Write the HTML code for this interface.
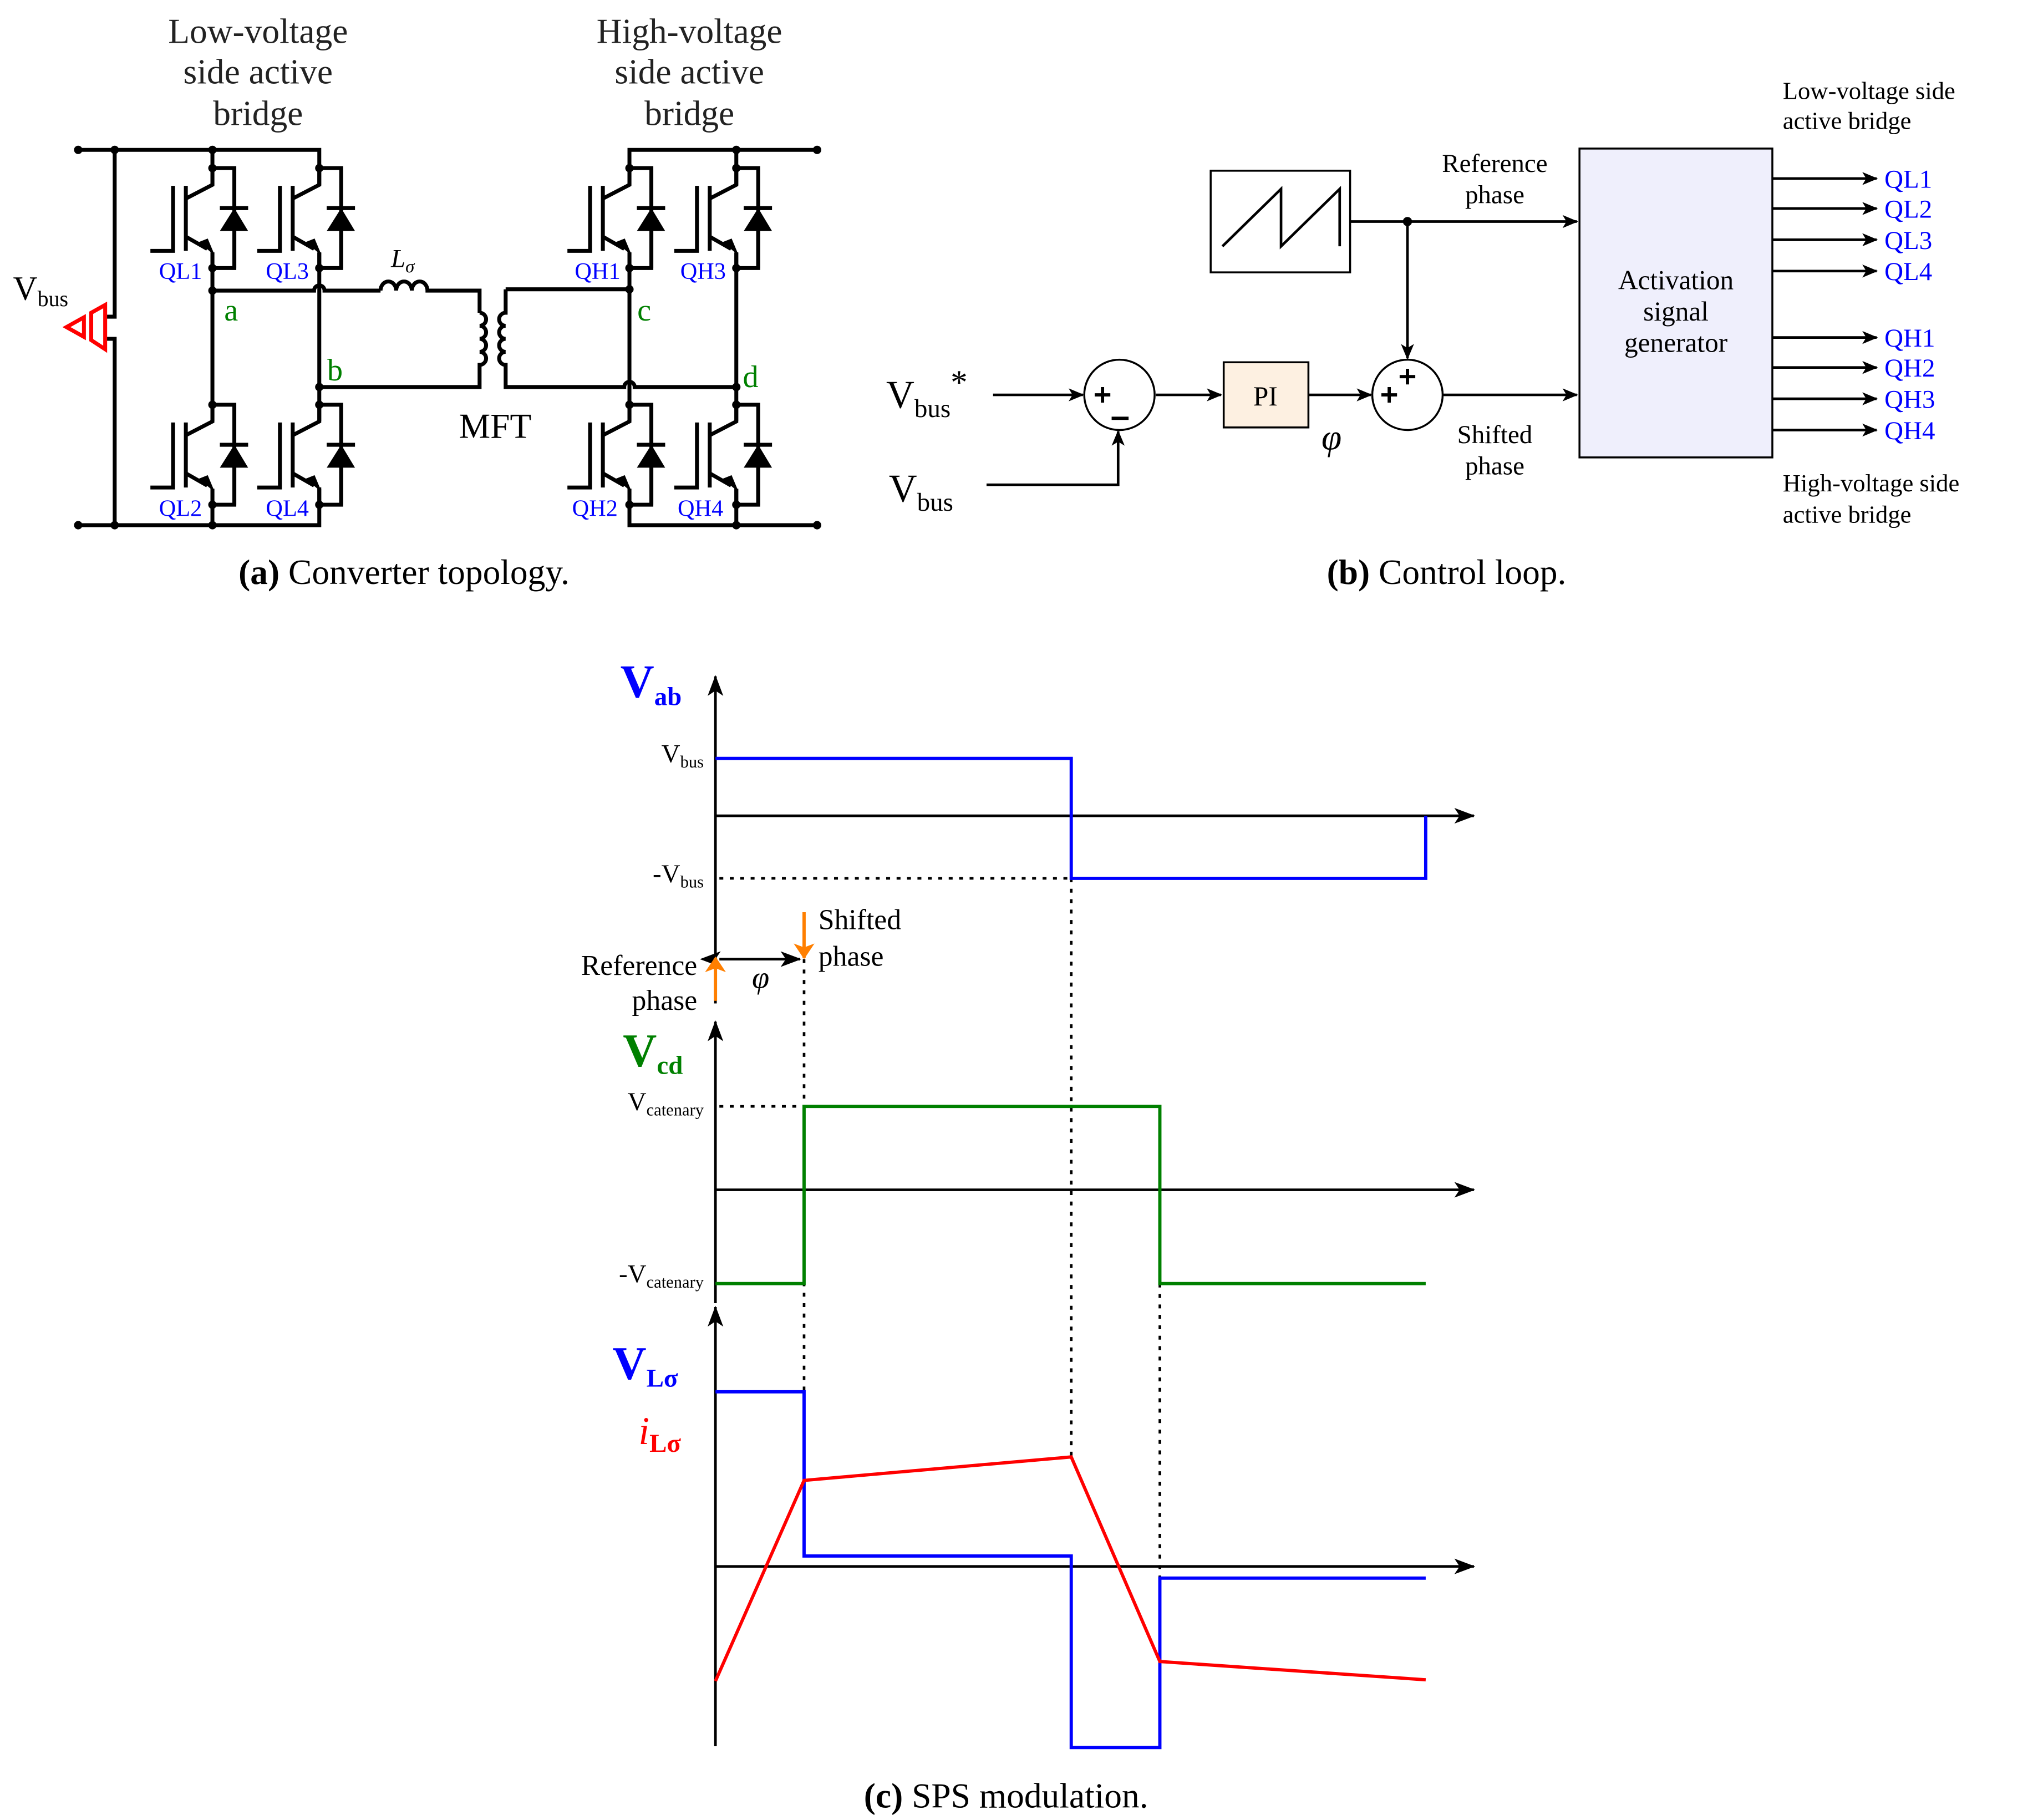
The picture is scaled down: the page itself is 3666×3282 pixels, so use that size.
<!DOCTYPE html>
<html><head><meta charset="utf-8"><style>
html,body{margin:0;padding:0;background:#fff}
svg{display:block}
text{font-family:"Liberation Serif",serif}
</style></head><body>
<svg width="3666" height="3282" viewBox="0 0 1560 1396.6" xmlns="http://www.w3.org/2000/svg" font-family="Liberation Serif, serif">
<defs>
<marker id="ah" viewBox="0 0 12 10" refX="11" refY="5" markerWidth="12" markerHeight="10" markerUnits="userSpaceOnUse" orient="auto"><path d="M0,0 L12,5 L0,10 L3,5 z" fill="#000"/></marker>
<marker id="ahb" viewBox="0 0 16 12" refX="15" refY="6" markerWidth="16" markerHeight="12" markerUnits="userSpaceOnUse" orient="auto"><path d="M0,0 L16,6 L0,12 L4,6 z" fill="#000"/></marker>
<marker id="ahs" viewBox="0 0 16 12" refX="1" refY="6" markerWidth="16" markerHeight="12" markerUnits="userSpaceOnUse" orient="auto-start-reverse"><path d="M0,0 L16,6 L0,12 L4,6 z" fill="#000"/></marker>
<marker id="ao" viewBox="0 0 12 16" refX="11" refY="8" markerWidth="12" markerHeight="16" markerUnits="userSpaceOnUse" orient="auto"><path d="M0,0 L12,8 L0,16 L3,8 z" fill="#ff7f00"/></marker>
<g id="sw" stroke="#000" stroke-width="3" fill="none">
<path d="M0,0 V12.8 L-20.4,23.4"/>
<path d="M-20.4,13.6 V63.5"/>
<path d="M-30.2,13.6 V63.5 H-47.6"/>
<path d="M-20.4,52.6 L-4,62"/>
<path d="M0,64.6 V76.7"/>
<path d="M0,0 H16.8 V76.7 H0"/>
<path d="M5.7,30.7 H27.4"/>
<path d="M16.8,48.3 V76.7"/>
<polygon points="0,64.6 -9,57 -4,55" fill="#000" stroke-width="1.5"/>
<polygon points="5.7,48.3 27.4,48.3 16.8,30.7" fill="#000" stroke="none"/>
<circle cx="0" cy="0" r="3.2" fill="#000" stroke="none"/>
<circle cx="0" cy="76.7" r="3.2" fill="#000" stroke="none"/>
</g>
</defs>

<!-- ===== (a) ===== -->
<g font-size="27" text-anchor="middle" fill="#222">
<text x="198" y="33">Low-voltage</text><text x="198" y="64">side active</text><text x="198" y="96">bridge</text>
<text x="529" y="33">High-voltage</text><text x="529" y="64">side active</text><text x="529" y="96">bridge</text>
</g>
<g stroke="#000" stroke-width="3" fill="none">
<path d="M60,115 H245 V142"/>
<path d="M60,403 H245 V374"/>
<path d="M88,115 V243 H82 M82,260 H88 V403"/>
<path d="M163,115 V142 M163,194 V323 M163,375 V403"/>
<path d="M245,194 V323"/>
<path d="M163,223 H241 A4,4 0 0 1 249,223 H292"/>
<path d="M292,223 a6,7 0 0 1 12,0 a6,7 0 0 1 12,0 a6,7 0 0 1 12,0 H368 V240"/>
<path d="M368,240 a5,5 0 0 1 0,10 a5,5 0 0 1 0,10 a5,5 0 0 1 0,10 a5,5 0 0 1 0,10 V297 H245"/>
<path d="M388,222 V240 a5,5 0 0 0 0,10 a5,5 0 0 0 0,10 a5,5 0 0 0 0,10 a5,5 0 0 0 0,10 V297 H479 A4,4 0 0 1 487,297 H565"/>
<path d="M388,222 H483"/>
<path d="M627,115 H483 V142 M483,194 V323 M483,375 V403 H627"/>
<path d="M565,115 V142 M565,194 V323 M565,375 V403"/>
</g>
<g fill="#000">
<circle cx="60" cy="115" r="3.2"/><circle cx="88" cy="115" r="3.2"/><circle cx="163" cy="115" r="3.2"/>
<circle cx="60" cy="403" r="3.2"/><circle cx="88" cy="403" r="3.2"/><circle cx="163" cy="403" r="3.2"/>
<circle cx="163" cy="223" r="3.2"/><circle cx="245" cy="297" r="3.2"/>
<circle cx="627" cy="115" r="3.2"/><circle cx="565" cy="115" r="3.2"/><circle cx="627" cy="403" r="3.2"/><circle cx="565" cy="403" r="3.2"/>
<circle cx="483" cy="222" r="3.2"/><circle cx="565" cy="297" r="3.2"/>
</g>
<use href="#sw" x="163" y="129"/><use href="#sw" x="245" y="129"/>
<use href="#sw" x="163" y="310.6"/><use href="#sw" x="245" y="310.6"/>
<use href="#sw" x="483" y="129"/><use href="#sw" x="565" y="129"/>
<use href="#sw" x="483" y="310.6"/><use href="#sw" x="565" y="310.6"/>
<g stroke="red" stroke-width="3" fill="#fff">
<polygon points="80.7,234 80.7,268 70,261 70,240"/>
<polygon points="51,251 64.4,243.5 64.4,258.5"/>
</g>
<text x="10" y="230" font-size="26">V<tspan font-size="17" dy="5">bus</tspan></text>
<g fill="#0000ff" font-size="18" text-anchor="end">
<text x="155" y="214">QL1</text><text x="237" y="214">QL3</text>
<text x="155" y="396">QL2</text><text x="237" y="396">QL4</text>
<text x="476" y="214">QH1</text><text x="557" y="214">QH3</text>
<text x="474" y="396">QH2</text><text x="555" y="396">QH4</text>
</g>
<g fill="#008000" font-size="24">
<text x="172" y="246">a</text><text x="251" y="292">b</text>
<text x="489" y="246">c</text><text x="570" y="297">d</text>
</g>
<text x="300" y="205" font-size="20" font-style="italic">L<tspan font-size="14" dy="4">σ</tspan></text>
<text x="380" y="336" font-size="27" text-anchor="middle">MFT</text>
<text x="310" y="448" font-size="27" text-anchor="middle"><tspan font-weight="bold">(a)</tspan> Converter topology.</text>

<!-- ===== (b) ===== -->
<rect x="929" y="131" width="107" height="78" fill="#fff" stroke="#000" stroke-width="1.5"/>
<path d="M938,189 L983,145 L983,189 L1028,145 L1028,189" fill="none" stroke="#000" stroke-width="2"/>
<rect x="1212" y="114" width="148" height="237" fill="#efeffc" stroke="#000" stroke-width="1.5"/>
<g font-size="21" text-anchor="middle">
<text x="1286" y="222">Activation</text><text x="1286" y="246">signal</text><text x="1286" y="270">generator</text>
</g>
<g stroke="#000" stroke-width="2" fill="none" marker-end="url(#ah)">
<path d="M1036,170 H1210"/>
<path d="M1080,170 V275"/>
<path d="M762,303 H831"/>
<path d="M757,372 H858 V331"/>
<path d="M887,303 H937"/>
<path d="M1004,303 H1052"/>
<path d="M1107,303 H1210"/>
<path d="M1360,137 H1440"/><path d="M1360,160 H1440"/><path d="M1360,184 H1440"/><path d="M1360,208 H1440"/>
<path d="M1360,259 H1440"/><path d="M1360,282 H1440"/><path d="M1360,306 H1440"/><path d="M1360,330 H1440"/>
</g>
<circle cx="1080" cy="170" r="3.5"/>
<circle cx="859" cy="303" r="27" fill="#fff" stroke="#000" stroke-width="1.5"/>
<circle cx="1080" cy="303" r="27" fill="#fff" stroke="#000" stroke-width="1.5"/>
<g stroke="#000" stroke-width="2.5">
<path d="M840,303 H852 M846,297 V309"/><path d="M853,321 H866"/>
<path d="M1060,303 H1072 M1066,297 V309"/><path d="M1074,289 H1086 M1080,283 V295"/>
</g>
<rect x="939" y="278" width="65" height="50" fill="#fdf0e1" stroke="#000" stroke-width="1.5"/>
<text x="971" y="311" font-size="21" text-anchor="middle">PI</text>
<text x="1014" y="345" font-size="28" font-style="italic">φ</text>
<text x="680" y="313" font-size="30">V<tspan font-size="20" dy="7">bus</tspan><tspan font-size="26" dy="-18">*</tspan></text>
<text x="682" y="385" font-size="30">V<tspan font-size="20" dy="7">bus</tspan></text>
<g font-size="20" text-anchor="middle">
<text x="1147" y="132">Reference</text><text x="1147" y="156">phase</text>
<text x="1147" y="340">Shifted</text><text x="1147" y="364">phase</text>
</g>
<g fill="#0000ff" font-size="20">
<text x="1446" y="144">QL1</text><text x="1446" y="167">QL2</text><text x="1446" y="191">QL3</text><text x="1446" y="215">QL4</text>
<text x="1446" y="266">QH1</text><text x="1446" y="289">QH2</text><text x="1446" y="313">QH3</text><text x="1446" y="337">QH4</text>
</g>
<g font-size="19">
<text x="1368" y="76">Low-voltage side</text><text x="1368" y="99">active bridge</text>
<text x="1368" y="377">High-voltage side</text><text x="1368" y="401">active bridge</text>
</g>
<text x="1110" y="448" font-size="27" text-anchor="middle"><tspan font-weight="bold">(b)</tspan> Control loop.</text>

<!-- ===== (c) ===== -->
<g stroke="#000" stroke-width="2" fill="none" marker-end="url(#ahb)">
<path d="M549,770 V519"/>
<path d="M549,626 H1131"/>
<path d="M549,1000 V784"/>
<path d="M549,913 H1131"/>
<path d="M549,1340 V1003"/>
<path d="M549,1202 H1131"/>
</g>
<path d="M552,736 H614" stroke="#000" stroke-width="2" fill="none" marker-start="url(#ahs)" marker-end="url(#ahb)"/>
<g stroke="#000" stroke-width="2" stroke-dasharray="3,5" fill="none">
<path d="M552,674 H822"/>
<path d="M822,674 V1120"/>
<path d="M617,736 V1068"/>
<path d="M552,849 H617"/>
<path d="M890,849 V1275"/>
</g>
<path d="M549,768 V735" stroke="#ff7f00" stroke-width="2.5" fill="none" marker-end="url(#ao)"/>
<path d="M617,700 V735" stroke="#ff7f00" stroke-width="2.5" fill="none" marker-end="url(#ao)"/>
<path d="M549,582 H822 V674 H1094 V626" stroke="#0000ff" stroke-width="2.5" fill="none"/>
<path d="M549,985 H617 V849 H890 V985 H1094" stroke="#008000" stroke-width="2.5" fill="none"/>
<path d="M549,1068 H617 V1194 H822 V1341 H890 V1211 H1094" stroke="#0000ff" stroke-width="2.5" fill="none"/>
<path d="M549,1290 L617,1136 L822,1118 L890,1275 L1094,1289" stroke="#ff0000" stroke-width="2.5" fill="none"/>
<g font-size="20" text-anchor="end">
<text x="540" y="585">V<tspan font-size="13" dy="4">bus</tspan></text>
<text x="540" y="677">-V<tspan font-size="13" dy="4">bus</tspan></text>
<text x="540" y="852">V<tspan font-size="13" dy="4">catenary</tspan></text>
<text x="540" y="984">-V<tspan font-size="13" dy="4">catenary</tspan></text>
<text x="535" y="748" font-size="22">Reference</text>
<text x="535" y="775" font-size="22">phase</text>
</g>
<text x="628" y="713" font-size="22">Shifted</text>
<text x="628" y="741" font-size="22">phase</text>
<text x="577" y="758" font-size="24" font-style="italic">φ</text>
<text x="476" y="535" font-size="36" font-weight="bold" fill="#0000ff">V<tspan font-size="20" dy="6">ab</tspan></text>
<text x="478" y="818" font-size="36" font-weight="bold" fill="#008000">V<tspan font-size="20" dy="6">cd</tspan></text>
<text x="470" y="1058" font-size="36" font-weight="bold" fill="#0000ff">V<tspan font-size="20" dy="6">Lσ</tspan></text>
<text x="490" y="1108" font-size="30" font-style="italic" fill="#ff0000">i<tspan font-size="20" dy="6" font-weight="bold" font-style="normal">Lσ</tspan></text>
<text x="772" y="1387" font-size="27" text-anchor="middle"><tspan font-weight="bold">(c)</tspan> SPS modulation.</text>
</svg>
</body></html>
